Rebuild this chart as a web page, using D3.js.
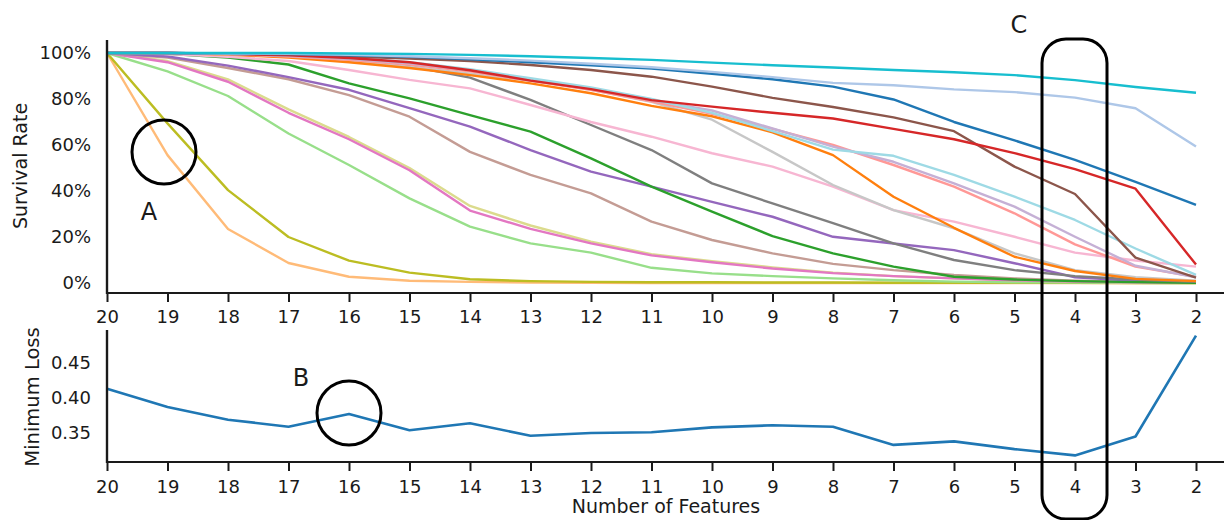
<!DOCTYPE html>
<html>
<head>
<meta charset="utf-8">
<script src="https://cdn.jsdelivr.net/npm/d3@7"></script>
<style>
  html, body { margin: 0; padding: 0; background: #fff; }
  svg { display: block; font-family: "DejaVu Sans", sans-serif; }
</style>
</head>
<body>
<svg id="chart" width="1224" height="520"></svg>
<script>
// ---------------- DATA ----------------
const features = [20,19,18,17,16,15,14,13,12,11,10,9,8,7,6,5,4,3,2];

const seriesNames = ["blue","lightblue","orange","lightorange","green","lightgreen","red","salmon",
  "purple","lightpurple","brown","lightbrown","pink","lightpink","gray","lightgray",
  "olive","lightolive","cyan","lightcyan"];

const blue        = [100,100,99.8,99.5,99,98.3,97.3,96,94.6,93.2,91,88.6,85.4,79.8,70,62,53.5,44,34];
const lightblue   = [100,100,99.8,99.6,99.2,98.6,97.7,96.7,95.3,93.8,91.8,89.5,87,86,84.2,83,80.6,76,59.3];
const orange      = [100,100,99.3,98,96,93.5,90.4,86.8,82.5,77,72.5,65.5,55.6,37.5,24,11.4,5.2,1.8,0.8];
const lightorange = [100,55.6,23.5,8.7,2.7,1,0.5,0.2,0.1,0,0,0,0,0,0,0,0,0,0];
const green       = [100,99.6,98,95,86.8,80.3,73,65.8,54.2,41.9,31,20.4,12.9,7.1,2.7,1.5,0.8,0.4,0.1];
const lightgreen  = [100,92,81.3,65,51.3,36.8,24.5,17.2,13.2,6.6,4.2,3,2,1.2,0.6,0.3,0.2,0.1,0];
const red         = [100,100,99.6,99,97.8,96,92.5,88,84.3,79.5,76.7,74,71.5,67,62.5,56.5,49.5,41,8];
const salmon      = [100,100,99.5,98.5,97,95,92,88,84,79,73.5,67,60,51.3,41.9,30.3,16.8,7.1,2.7];
const purple      = [100,98.5,94.5,89.5,84,76,68,57.8,48.4,41.9,35.3,28.8,20.1,17.2,14.3,8.6,2.5,1,0.4];
const lightpurple = [100,100,99.5,98.8,97.5,95.5,92.5,88.5,84.5,79.5,75,67.2,59.3,52.7,43.3,33.2,20.1,7.5,2.5];
const brown       = [100,100,99.7,99.3,98.5,97.6,96.5,94.8,92.6,89.7,85.4,80.5,76.5,72,66,50.6,38.7,11,2.3];
const lightbrown  = [100,98,93.5,88.6,81.7,72.3,57,47,39,26.7,18.7,12.9,8.3,5.6,3.5,2,1,0.5,0.1];
const pink        = [100,96,87.5,74,62.5,49,31.5,23.5,17.2,12,9,6.3,4.3,3,2,1.2,0.6,0.3,0.1];
const lightpink   = [100,99.5,98.3,96.5,92.6,88.3,84.6,77.4,70,63.6,56.4,50.6,41.9,31.7,26.7,20.1,13.2,9.8,7.1];
const gray        = [100,100,99.7,99,97.5,94.3,89.3,79.6,68.7,57.8,43.3,34.6,26,17.2,10,5.6,3,1.5,0.5];
const lightgray   = [100,100,99.5,98.5,96.5,94,91,88,84,78.8,71,57,42.6,31.7,23.8,12.9,5.6,2.5,1];
const olive       = [100,69.4,40.4,20,9.7,4.5,1.6,0.8,0.5,0.3,0.3,0.2,0.2,0.1,0.1,0.1,0.1,0,0];
const lightolive  = [100,96.5,88.5,75.5,63.5,50,33.5,25,18,12.5,9.5,6.8,4.5,3,2,1.2,0.6,0.3,0.1];
const cyan        = [100,100,100,100,99.8,99.6,99.2,98.6,97.8,97,95.8,94.7,93.7,92.6,91.6,90.4,88.2,85.2,82.7];
const lightcyan   = [100,100,99.6,99,97.8,96,93,89,85,80,74,66,58,55.3,47,37.5,27.4,15,3.5];

const minLoss = [0.413,0.387,0.369,0.359,0.377,0.354,0.364,0.346,0.350,0.351,0.358,0.361,0.359,0.333,0.338,0.327,0.318,0.345,0.489];

const survivalTicks = [0,20,40,60,80,100];
const lossTicks = [0.35,0.40,0.45];

const allSeries = {blue, lightblue, orange, lightorange, green, lightgreen, red, salmon,
  purple, lightpurple, brown, lightbrown, pink, lightpink, gray, lightgray,
  olive, lightolive, cyan, lightcyan};

// ---------------- LAYOUT ----------------
const W = 1224, H = 520;
const svg = d3.select("#chart");
const palette = [
  "#1f77b4","#aec7e8","#ff7f0e","#ffbb78","#2ca02c","#98df8a","#d62728","#ff9896",
  "#9467bd","#c5b0d5","#8c564b","#c49c94","#e377c2","#f7b6d2","#7f7f7f","#c7c7c7",
  "#bcbd22","#dbdb8d","#17becf","#9edae5"];
const color = d3.scaleOrdinal().domain(seriesNames).range(palette);

const x = d3.scaleLinear().domain([20, 2]).range([107, 1196]);
const yTop = d3.scaleLinear().domain([-4.35, 105.65]).range([293, 40]);
const yBot = d3.scaleLinear().domain([0.3086, 0.497]).range([462, 330]);

const ink = "#1a1a1a";

// ---------- top panel lines ----------
const lineTop = d3.line().x((d, i) => x(features[i])).y(d => yTop(d));
const drawOrder = ["lightorange","olive","lightgreen","lightolive","pink","lightbrown","purple","green",
  "gray","lightpink","lightgray","orange","salmon","lightpurple","lightcyan","brown","red","blue","lightblue","cyan"];
svg.append("g").selectAll("path").data(drawOrder).join("path")
  .attr("d", k => lineTop(allSeries[k]))
  .attr("fill", "none")
  .attr("stroke", k => color(k))
  .attr("stroke-width", 2.4)
  .attr("stroke-linejoin", "round");

// ---------- bottom panel line ----------
const lineBot = d3.line().x((d, i) => x(features[i])).y(d => yBot(d));
svg.append("path").attr("d", lineBot(minLoss))
  .attr("fill", "none").attr("stroke", "#1f77b4").attr("stroke-width", 2.6)
  .attr("stroke-linejoin", "round");

// ---------- axes ----------
function styleAxis(g) {
  g.selectAll("text").attr("font-size", 18).attr("fill", ink)
    .attr("font-family", '"DejaVu Sans", sans-serif');
  g.selectAll("line").attr("stroke", ink).attr("stroke-width", 2);
  g.select(".domain").remove();
}

// top x axis
const gxTop = svg.append("g").attr("transform", `translate(0,${yTop.range()[0]})`)
  .call(d3.axisBottom(x).tickValues(features).tickFormat(d3.format("d")).tickSize(9).tickPadding(8));
styleAxis(gxTop);
svg.append("line").attr("x1", x.range()[0]).attr("x2", W)
  .attr("y1", yTop.range()[0]).attr("y2", yTop.range()[0])
  .attr("stroke", ink).attr("stroke-width", 2.2);

// bottom x axis
const gxBot = svg.append("g").attr("transform", `translate(0,${yBot.range()[0]})`)
  .call(d3.axisBottom(x).tickValues(features).tickFormat(d3.format("d")).tickSize(9).tickPadding(9));
styleAxis(gxBot);
svg.append("line").attr("x1", x.range()[0]).attr("x2", W)
  .attr("y1", yBot.range()[0]).attr("y2", yBot.range()[0])
  .attr("stroke", ink).attr("stroke-width", 2.2);

// top y axis
const gyTop = svg.append("g").attr("transform", `translate(${x.range()[0]},0)`)
  .call(d3.axisLeft(yTop).tickValues(survivalTicks).tickFormat(d => d + "%").tickSize(0).tickPadding(16));
styleAxis(gyTop);
svg.append("line").attr("x1", x.range()[0]).attr("x2", x.range()[0])
  .attr("y1", yTop.range()[1]).attr("y2", yTop.range()[0] + 1)
  .attr("stroke", ink).attr("stroke-width", 2.4);

// bottom y axis
const gyBot = svg.append("g").attr("transform", `translate(${x.range()[0]},0)`)
  .call(d3.axisLeft(yBot).tickValues(lossTicks).tickFormat(d3.format(".2f")).tickSize(0).tickPadding(16));
styleAxis(gyBot);
svg.append("line").attr("x1", x.range()[0]).attr("x2", x.range()[0])
  .attr("y1", yBot.range()[1]).attr("y2", yBot.range()[0] + 1)
  .attr("stroke", ink).attr("stroke-width", 2.4);

// axis titles
svg.append("text").attr("transform", "translate(27,166) rotate(-90)")
  .attr("text-anchor", "middle").attr("font-size", 19).attr("fill", ink).text("Survival Rate");
svg.append("text").attr("transform", "translate(39,397) rotate(-90)")
  .attr("text-anchor", "middle").attr("font-size", 19.5).attr("fill", ink).text("Minimum Loss");
svg.append("text").attr("x", 666).attr("y", 513)
  .attr("text-anchor", "middle").attr("font-size", 19).attr("fill", ink).text("Number of Features");

// ---------- annotations ----------
svg.append("circle").attr("cx", 164).attr("cy", 152).attr("r", 32)
  .attr("fill", "none").attr("stroke", "#000").attr("stroke-width", 3);
svg.append("text").attr("x", 149).attr("y", 220).attr("text-anchor", "middle")
  .attr("font-size", 24).attr("fill", ink).text("A");

svg.append("circle").attr("cx", 349).attr("cy", 413).attr("r", 32)
  .attr("fill", "none").attr("stroke", "#000").attr("stroke-width", 3);
svg.append("text").attr("x", 301).attr("y", 386).attr("text-anchor", "middle")
  .attr("font-size", 24).attr("fill", ink).text("B");

svg.append("rect").attr("x", 1042).attr("y", 39).attr("width", 65).attr("height", 480)
  .attr("rx", 24).attr("ry", 24)
  .attr("fill", "none").attr("stroke", "#000").attr("stroke-width", 3);
svg.append("text").attr("x", 1019).attr("y", 33).attr("text-anchor", "middle")
  .attr("font-size", 24).attr("fill", ink).text("C");
</script>
</body>
</html>
